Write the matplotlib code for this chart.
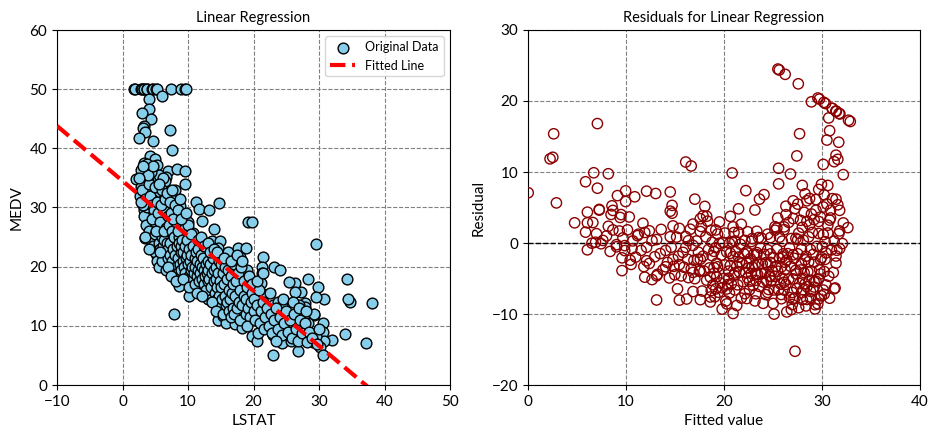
import numpy as np
import matplotlib
matplotlib.use("Agg")
import matplotlib.pyplot as plt

plt.rcParams['font.family'] = ['Lato', 'DejaVu Sans']

# ---- data (LSTAT, MEDV) grouped by region ----
lstat_a = [1.73, 1.92, 2.87, 2.96, 3.26, 3.32, 3.70, 3.73, 4.45, 4.63, 5.12, 5.29, 7.44, 8.88, 9.53, 9.68]
medv_a = [50.0, 50.0, 50.0, 50.0, 50.0, 50.0, 50.0, 50.0, 50.0, 50.0, 50.0, 50.0, 50.0, 50.0, 50.0, 50.0]

lstat_b = [4.1, 6.0, 4.0, 3.0, 4.3, 3.3, 3.1, 3.5, 2.5, 4.7, 7.3, 7.6]
medv_b = [48.3, 48.8, 46.6, 45.9, 45.0, 43.8, 43.4, 42.7, 41.8, 41.2, 43.1, 39.7]

lstat_c = [4.2, 4.9, 3.3, 3.7, 2.9, 5.2, 7.0, 8.3, 9.6, 9.6, 2.0, 4.7, 5.5, 6.7, 6.5,
           3.9, 2.9, 4.2, 5.2, 5.7, 7.8, 2.6, 8.0, 4.7, 6.2, 8.8, 7.0, 3.3, 4.4, 3.3,
           4.9, 6.1, 7.5, 9.0, 9.8, 9.2, 5.7, 4.6, 6.7, 8.0, 3.5, 5.2, 7.1, 9.2, 5.7,
           4.6, 7.7, 6.5, 5.2, 5.6, 7.1, 9.0, 8.0, 8.1, 9.3, 8.7, 7.8, 10.1]
medv_c = [38.7, 38.2, 37.6, 37.3, 36.4, 37.2, 36.1, 36.5, 36.1, 33.9, 34.8, 35.2, 35.5, 35.2, 34.4,
          34.4, 33.5, 33.1, 32.7, 32.5, 32.1, 32.0, 33.0, 31.3, 31.3, 30.3, 30.2, 29.6, 29.0, 28.6,
          27.9, 27.9, 28.0, 28.4, 27.5, 26.2, 26.5, 26.2, 25.9, 25.4, 24.8, 24.6, 25.0, 24.0, 23.7,
          23.0, 23.5, 22.3, 21.8, 20.6, 20.9, 20.6, 19.2, 18.3, 18.6, 16.7, 12.0, 15.1]

lstat_d = [11.2, 11.7, 13.2, 14.7, 12.2, 14.0, 10.0, 10.8, 11.8, 13.7, 14.9, 10.5, 12.6, 14.6, 16.1,
           17.7, 18.8, 19.2, 19.8, 10.8, 12.0, 13.1, 14.4, 16.3, 17.4, 17.9, 10.5, 12.1, 13.9, 14.9,
           16.9, 18.2, 19.0, 10.8, 12.8, 14.4, 16.4, 18.4, 19.5, 12.1, 13.3, 15.1, 16.7, 18.2, 13.1,
           15.3, 17.1, 18.2, 19.0, 14.6, 15.3, 15.8, 17.1, 17.1, 18.2, 16.5, 16.7]
medv_d = [30.9, 29.8, 29.6, 30.7, 27.8, 26.3, 27.5, 25.7, 24.3, 24.4, 24.4, 23.2, 23.0, 23.2, 22.5,
          23.2, 23.2, 27.5, 27.5, 21.4, 21.7, 21.1, 21.4, 20.6, 21.4, 21.7, 20.0, 18.9, 18.9, 19.2,
          18.9, 19.2, 19.5, 17.5, 17.2, 16.9, 16.4, 16.1, 16.7, 16.1, 15.0, 15.5, 14.7, 15.3, 14.5,
          13.8, 13.8, 13.7, 12.7, 11.0, 11.7, 10.5, 11.0, 10.3, 9.6, 12.7, 17.8]

lstat_e = [21.5, 21.3, 21.3, 21.2, 21.5, 23.1, 24.1, 20.5, 21.1, 22.0, 23.0, 23.8, 24.3, 25.1, 24.1,
           23.0, 24.3, 23.0, 19.7, 20.5, 20.7]
medv_e = [21.7, 20.0, 18.9, 17.2, 15.4, 20.0, 19.4, 12.4, 11.6, 10.7, 13.6, 14.1, 13.4, 12.2, 9.6,
          8.5, 7.1, 5.1, 8.3, 7.4, 8.8]

lstat_f = [34.3, 29.5, 34.7, 34.4, 34.0, 29.9, 28.3, 30.8, 29.5, 27.3, 26.4, 25.4, 26.4, 27.9, 27.8,
           26.9, 29.3, 30.6, 30.6, 32.0, 28.3, 30.8, 29.6, 26.7, 30.1, 29.1, 30.6, 27.4, 26.5, 25.7,
           25.8, 26.8, 38.1, 37.1]
medv_f = [18.0, 23.9, 14.1, 14.6, 8.55, 16.6, 17.95, 14.5, 14.8, 15.8, 17.3, 17.4, 15.8, 13.8, 13.25,
          13.5, 11.9, 10.4, 8.9, 7.6, 10.55, 7.4, 8.3, 10.4, 6.5, 7.35, 5.1, 8.5, 8.8, 9.8,
          7.5, 5.7, 13.8, 7.1]

lstat_g = [3.0, 3.5, 3.8, 4.0, 4.2, 4.5, 4.8, 3.6, 4.1, 4.4, 4.7, 4.9, 5.0, 4.3, 3.9, 4.6, 5.0, 3.2,
           3.4, 4.0, 4.5, 5.0, 2.5, 2.9, 3.1]
medv_g = [33.0, 31.5, 30.0, 34.0, 32.0, 30.5, 29.5, 27.0, 26.0, 24.5, 23.5, 22.5, 27.5, 36.0, 35.5, 37.0, 33.5, 30.5,
          25.0, 23.0, 28.0, 25.5, 35.0, 31.0, 37.0]

lstat_h = [5.2, 5.4, 5.5, 5.7, 5.8, 6.0, 6.1, 6.2, 6.3, 6.4, 6.5, 6.6, 6.7, 6.8, 6.9, 7.0, 5.3, 5.6,
           5.9, 6.0, 6.2, 6.5, 6.8, 5.1, 5.5, 6.1, 6.6, 6.9, 5.8, 6.3]
medv_h = [31.0, 29.0, 24.0, 23.0, 27.5, 25.0, 22.0, 23.5, 29.5, 24.5, 20.5, 26.5, 22.5, 24.0, 28.5, 23.0, 21.0, 20.0,
          30.5, 33.0, 35.0, 31.5, 32.5, 26.0, 34.0, 21.0, 19.5, 21.5, 22.5, 26.0]

lstat_i = [7.1, 7.2, 7.3, 7.4, 7.5, 7.6, 7.7, 7.8, 7.9, 8.0, 8.1, 8.2, 8.3, 8.4, 8.5, 8.6, 8.7, 8.8,
           8.9, 9.0, 7.2, 7.5, 8.0, 8.5, 8.8, 7.0, 7.4, 8.2, 8.9, 7.7, 8.4]
medv_i = [27.0, 24.0, 22.0, 29.0, 26.0, 21.0, 23.0, 19.5, 25.0, 22.0, 20.0, 27.5, 23.5, 19.0, 21.5, 25.0, 24.0, 20.5,
          22.5, 19.5, 31.0, 33.0, 30.5, 29.5, 31.5, 20.0, 18.5, 17.5, 23.5, 28.0, 26.0]

lstat_j = [9.1, 9.2, 9.3, 9.4, 9.5, 9.6, 9.7, 9.8, 9.9, 10.0, 10.1, 10.2, 10.3, 10.4, 10.5, 10.6, 10.7, 10.8,
           10.9, 11.0, 9.5, 10.0, 10.5, 9.3, 10.2, 11.0, 9.0, 9.7]
medv_j = [24.5, 21.0, 22.5, 20.0, 23.5, 19.0, 21.5, 24.5, 22.0, 20.5, 18.5, 23.0, 21.0, 19.5, 22.0, 20.0, 18.0, 23.5,
          19.0, 21.5, 26.5, 27.0, 25.5, 18.0, 16.5, 17.0, 28.0, 29.0]

lstat_k = [11.1, 11.2, 11.3, 11.4, 11.5, 11.6, 11.7, 11.8, 11.9, 12.0, 12.1, 12.2, 12.3, 12.4, 12.5, 12.6, 12.7, 12.8,
           12.9, 13.0, 11.5, 12.0, 12.5, 13.0, 11.3, 12.2, 13.0]
medv_k = [20.0, 22.5, 18.5, 21.0, 19.5, 23.0, 17.5, 20.5, 19.0, 22.0, 18.0, 20.0, 21.5, 17.0, 19.5, 18.5, 20.5, 16.0,
          19.0, 21.0, 24.5, 25.0, 23.5, 17.5, 15.5, 15.0, 24.0]

lstat_l = [13.1, 13.2, 13.4, 13.5, 13.6, 13.8, 13.9, 14.0, 14.1, 14.2, 14.3, 14.4, 14.5, 14.6, 14.7, 14.8, 14.9, 15.0,
           13.3, 14.0, 14.5, 13.7, 14.2, 15.0]
medv_l = [19.5, 18.0, 20.5, 16.5, 19.0, 21.5, 17.5, 19.5, 15.5, 18.0, 20.0, 14.5, 16.5, 19.0, 21.0, 15.0, 17.5, 13.5,
          22.5, 23.0, 22.5, 14.0, 12.5, 20.5]

lstat_m = [15.1, 15.2, 15.3, 15.4, 15.5, 15.6, 15.7, 15.8, 15.9, 16.0, 16.1, 16.2, 16.3, 16.4, 16.5, 16.6, 16.7, 16.8,
           16.9, 17.0, 15.5, 16.5, 17.0]
medv_m = [16.5, 14.5, 19.0, 12.0, 17.0, 15.0, 20.0, 13.5, 18.0, 14.0, 19.5, 12.5, 16.0, 14.5, 18.5, 11.5, 15.5, 13.0,
          17.0, 20.5, 21.5, 21.0, 12.0]

lstat_n = [17.2, 17.3, 17.5, 17.6, 17.8, 17.9, 18.0, 18.1, 18.3, 18.5, 18.6, 18.8, 18.9, 19.0, 19.2, 19.3, 19.5, 19.6,
           19.8, 20.0, 17.5, 18.2, 19.0, 19.8]
medv_n = [15.0, 17.5, 13.0, 19.0, 14.0, 16.0, 11.0, 20.0, 13.5, 15.0, 17.5, 12.0, 14.5, 16.5, 13.0, 18.5, 11.5, 14.0,
          15.5, 12.5, 22.0, 21.0, 10.0, 17.0]

lstat_o = [20.1, 20.3, 20.6, 20.8, 21.0, 21.2, 21.4, 21.6, 21.8, 22.0, 22.3, 22.6, 22.9, 23.2, 23.5, 23.8, 24.1, 24.4,
           24.7, 25.0, 20.5, 21.5, 22.5, 23.5, 24.5]
medv_o = [14.5, 11.0, 13.5, 16.0, 10.5, 12.5, 14.0, 9.5, 11.5, 13.0, 10.0, 12.0, 8.8, 11.0, 13.0, 9.5, 11.5, 8.5,
          10.5, 12.5, 17.5, 19.0, 15.5, 7.5, 14.5]

lstat_p = [25.3, 25.6, 25.9, 26.2, 26.5, 26.8, 27.1, 27.4, 27.8, 28.1, 28.5, 28.9, 29.3, 29.7, 30.0, 26.0, 27.0, 28.0]
medv_p = [9.0, 11.0, 8.0, 12.0, 9.5, 7.5, 11.0, 8.8, 10.5, 7.2, 9.0, 8.0, 12.0, 7.0, 9.5, 14.0, 13.0, 12.5]

lstat = np.array(lstat_a + lstat_b + lstat_c + lstat_d + lstat_e + lstat_f + lstat_g + lstat_h
                 + lstat_i + lstat_j + lstat_k + lstat_l + lstat_m + lstat_n + lstat_o + lstat_p)
medv = np.array(medv_a + medv_b + medv_c + medv_d + medv_e + medv_f + medv_g + medv_h
                + medv_i + medv_j + medv_k + medv_l + medv_m + medv_n + medv_o + medv_p)

# ---- regression ----
slope, intercept = np.polyfit(lstat, medv, 1)
fitted = intercept + slope * lstat
resid = medv - fitted

fig = plt.figure(figsize=(9.39, 4.4), dpi=100)
ax1 = fig.add_axes([57/939, 55/440, 393/939, 355/440])
ax2 = fig.add_axes([528/939, 55/440, 392/939, 355/440])

ax1.scatter(lstat, medv, s=60, c='skyblue', edgecolors='black', linewidths=1.0,
            label='Original Data', zorder=3)
xl = np.array([-10, 50])
ax1.plot(xl, intercept + slope * xl, color='red', linestyle='--', linewidth=3,
         label='Fitted Line', zorder=4)
ax1.set_xlim(-10, 50)
ax1.set_ylim(0, 60)
ax1.set_xticks([-10, 0, 10, 20, 30, 40, 50])
ax1.set_yticks([0, 10, 20, 30, 40, 50, 60])
ax1.set_xlabel('LSTAT', fontsize=11)
ax1.set_ylabel('MEDV', fontsize=11)
ax1.set_title('Linear Regression', fontsize=10.5)
ax1.grid(True, linestyle='--', color='gray', linewidth=0.8)
ax1.set_axisbelow(True)
ax1.legend(loc='upper right', fontsize=9)

ax2.scatter(fitted, resid, s=55, facecolors='none', edgecolors='darkred', linewidths=1.0, zorder=3)
ax2.axhline(0, color='black', linestyle='--', linewidth=1, zorder=2)
ax2.set_xlim(0, 40)
ax2.set_ylim(-20, 30)
ax2.set_xticks([0, 10, 20, 30, 40])
ax2.set_yticks([-20, -10, 0, 10, 20, 30])
ax2.set_xlabel('Fitted value', fontsize=11)
ax2.set_ylabel('Residual', fontsize=11)
ax2.set_title('Residuals for Linear Regression', fontsize=10.5)
ax2.grid(True, linestyle='--', color='gray', linewidth=0.8)
ax2.set_axisbelow(True)

for ax in (ax1, ax2):
    ax.tick_params(labelsize=11)

fig.savefig('out.png', dpi=100)
